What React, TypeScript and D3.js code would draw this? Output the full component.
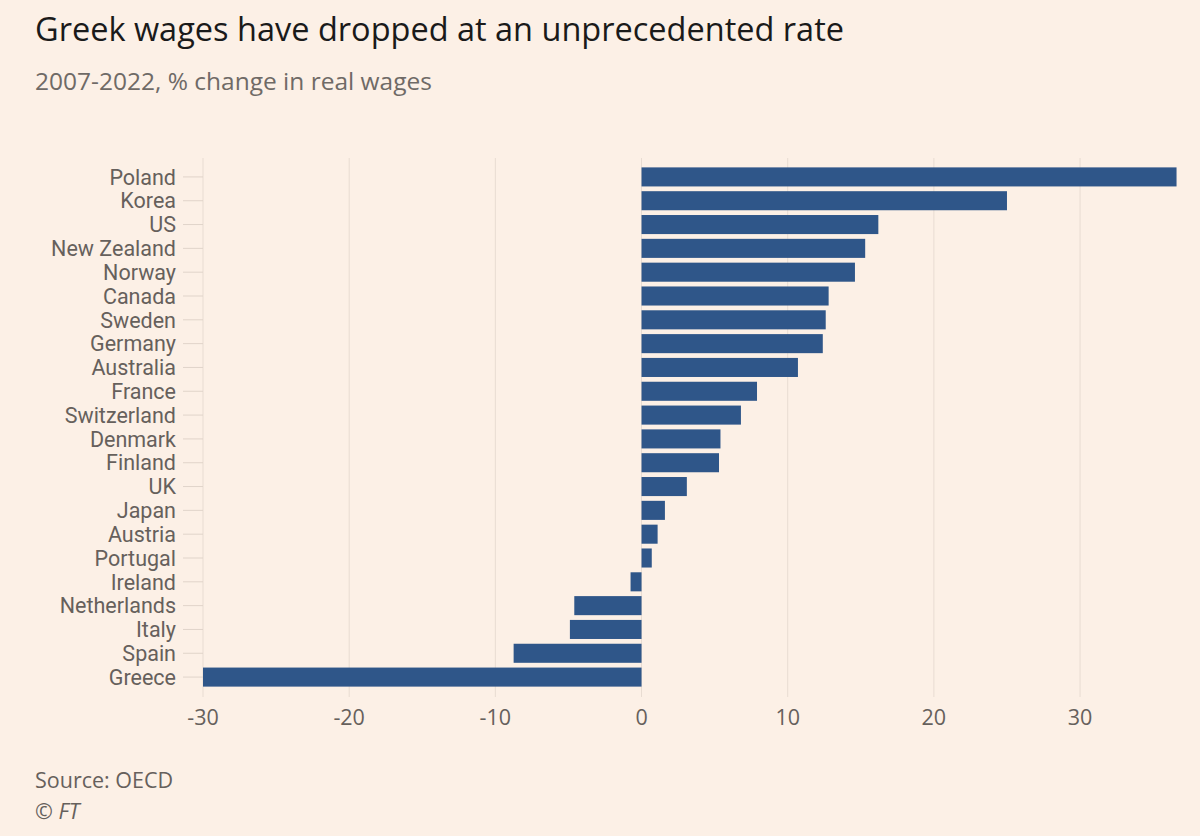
import React from "react";
import * as d3 from "d3";

const countries = ["Poland","Korea","US","New Zealand","Norway","Canada","Sweden","Germany","Australia","France","Switzerland","Denmark","Finland","UK","Japan","Austria","Portugal","Ireland","Netherlands","Italy","Spain","Greece"];
const values = [36.6,25.0,16.2,15.3,14.6,12.8,12.6,12.4,10.7,7.9,6.8,5.4,5.3,3.1,1.6,1.1,0.7,-0.75,-4.6,-4.9,-8.75,-30.0];
const xTicks = [-30,-20,-10,0,10,20,30];

const W = 1200, H = 836;
const FONT = "'Open Sans', sans-serif";
const LABEL_FONT = "Roboto, sans-serif";

export default function App() {
  const x = d3.scaleLinear().domain([-30, 36.7]).range([203, 1178]);
  const y = d3.scaleBand().domain(countries).range([165, 689]).paddingInner(0.2).paddingOuter(0.1);
  const data = countries.map((c, i) => ({ c, v: values[i] }));
  return (
    <svg width={W} height={H} style={{ position: "absolute", left: 0, top: 0, background: "#fcf0e6" }}>
      <rect x={0} y={0} width={W} height={H} fill="#fcf0e6" />
      <text x={35} y={41} fontFamily={FONT} fontSize={32.5} fill="#1a1a1a">Greek wages have dropped at an unprecedented rate</text>
      <text x={35} y={90} fontFamily={FONT} fontSize={24.5} fill="#6f6a66">2007-2022, % change in real wages</text>
      {xTicks.map(t => (
        <line key={t} x1={x(t)} x2={x(t)} y1={158} y2={697} stroke="#e8dcd2" strokeWidth={1} />
      ))}
      {countries.map(c => (
        <g key={c}>
          <line x1={183} x2={203} y1={y(c)! + y.bandwidth() / 2} y2={y(c)! + y.bandwidth() / 2} stroke="#e0d4ca" />
          <text x={176} y={y(c)! + y.bandwidth() / 2} dy="0.36em" textAnchor="end" fontFamily={LABEL_FONT} fontSize={21.5} fill="#66605c">{c}</text>
        </g>
      ))}
      {data.map(d => (
        <rect key={d.c} x={Math.min(x(0), x(d.v))} y={y(d.c)} width={Math.abs(x(d.v) - x(0))} height={y.bandwidth()} fill="#2f5689" />
      ))}
      {xTicks.map(t => (
        <text key={t} x={x(t)} y={725} textAnchor="middle" fontFamily={FONT} fontSize={21.5} fill="#66605c">{t}</text>
      ))}
      <text x={35} y={788} fontFamily={FONT} fontSize={21.5} fill="#66605c">Source: OECD</text>
      <text x={35} y={819} fontFamily={FONT} fontSize={21.5} fontStyle="italic" fill="#66605c">© FT</text>
    </svg>
  );
}
